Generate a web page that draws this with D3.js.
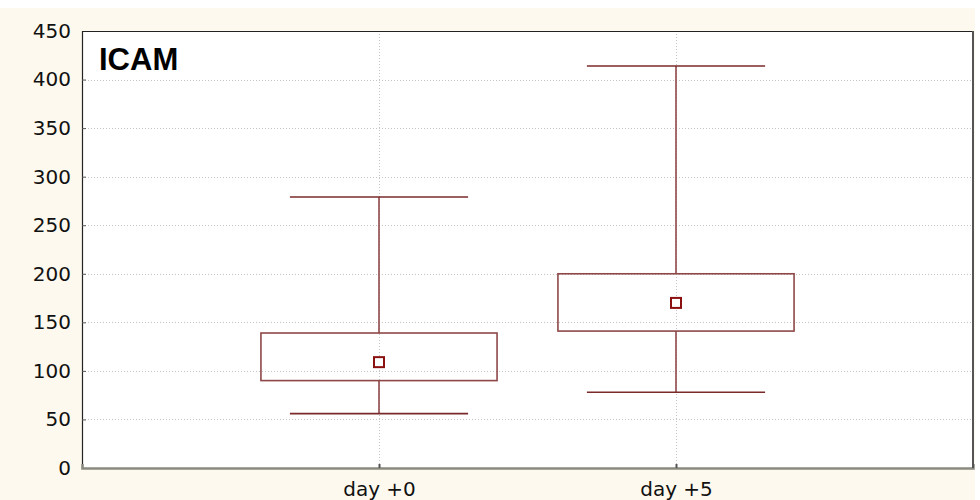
<!DOCTYPE html>
<html>
<head>
<meta charset="utf-8">
<script src="https://cdn.jsdelivr.net/npm/d3@7"></script>
<style>
  html, body { margin: 0; padding: 0; background: #ffffff; }
  svg { display: block; }
</style>
</head>
<body>
<svg id="chart" width="980" height="500"></svg>
<script>
// Box plot data: whiskers (min/max), box (25th/75th), mean marker
const categories = ["day +0", "day +5"];
const whiskerLow  = [56, 78];
const boxLow      = [90, 141];
const meanValue   = [109, 170];
const boxHigh     = [139, 200];
const whiskerHigh = [279, 414];
const yTicks = [0, 50, 100, 150, 200, 250, 300, 350, 400, 450];
const chartTitle = "ICAM";

const svg = d3.select("#chart");
const W = 980, H = 500;
const m = { left: 82, right: 7, top: 31, bottom: 32 };
const plotW = W - m.left - m.right;
const plotH = H - m.top - m.bottom;

// outer cream panel
svg.append("rect").attr("x", 0).attr("y", 8).attr("width", 975).attr("height", H - 8)
  .attr("fill", "#fdf9ee");

const g = svg.append("g").attr("transform", `translate(${m.left},${m.top})`);

g.append("rect").attr("width", plotW).attr("height", plotH).attr("fill", "#ffffff");

const x = d3.scalePoint().domain(categories).range([0, plotW]).padding(1);
const y = d3.scaleLinear().domain([0, 450]).range([plotH, 0]);
const step = x.step();

// horizontal grid
g.append("g").selectAll("line").data(yTicks.filter(t => t > 0 && t < 450)).join("line")
  .attr("x1", 0).attr("x2", plotW)
  .attr("y1", d => Math.round(y(d)) + 0.5).attr("y2", d => Math.round(y(d)) + 0.5)
  .attr("stroke", "#c4c4c4").attr("stroke-width", 1).attr("stroke-dasharray", "1,2");

// vertical grid at categories
g.append("g").selectAll("line").data(categories).join("line")
  .attr("x1", d => Math.round(x(d)) + 0.5).attr("x2", d => Math.round(x(d)) + 0.5)
  .attr("y1", 0).attr("y2", plotH)
  .attr("stroke", "#c4c4c4").attr("stroke-width", 1).attr("stroke-dasharray", "1,2");

// y axis
const yAxis = d3.axisLeft(y).tickValues(yTicks).tickSize(-4).tickPadding(11);
const ya = g.append("g").call(yAxis);
ya.select(".domain").attr("stroke", "#222").attr("stroke-width", 1.2);
ya.selectAll(".tick line").attr("stroke", "#555");
ya.selectAll(".tick text").attr("font-family", "'DejaVu Sans', sans-serif")
  .attr("font-size", 20).attr("fill", "#111");

// x axis
const xAxis = d3.axisBottom(x).tickSize(-4).tickPadding(14);
const xa = g.append("g").attr("transform", `translate(0,${plotH})`).call(xAxis);
xa.select(".domain").attr("stroke", "#8a8a80").attr("stroke-width", 2.5);
xa.selectAll(".tick line").attr("stroke", "#555").attr("stroke-width", 2);
xa.selectAll(".tick text").attr("font-family", "'DejaVu Sans', sans-serif")
  .attr("font-size", 20).attr("fill", "#111");

// top and right frame
g.append("line").attr("x1", 0).attr("x2", plotW).attr("y1", 0.5).attr("y2", 0.5)
  .attr("stroke", "#222").attr("stroke-width", 1.2);
g.append("line").attr("x1", plotW).attr("x2", plotW).attr("y1", 0).attr("y2", plotH)
  .attr("stroke", "#555").attr("stroke-width", 2);

// boxes
const boxW = step * 0.795, capW = step * 0.6;
const stroke = "#8e4848";
const rows = categories.map((c, i) => ({
  c, lo: whiskerLow[i], q1: boxLow[i], mean: meanValue[i], q3: boxHigh[i], hi: whiskerHigh[i]
}));
const bx = g.append("g").selectAll("g").data(rows).join("g");

bx.append("line").attr("x1", d => x(d.c)).attr("x2", d => x(d.c))
  .attr("y1", d => y(d.hi)).attr("y2", d => y(d.q3))
  .attr("stroke", stroke).attr("stroke-width", 1.6);
bx.append("line").attr("x1", d => x(d.c)).attr("x2", d => x(d.c))
  .attr("y1", d => y(d.q1)).attr("y2", d => y(d.lo))
  .attr("stroke", stroke).attr("stroke-width", 1.6);
bx.append("line").attr("x1", d => x(d.c) - capW / 2).attr("x2", d => x(d.c) + capW / 2)
  .attr("y1", d => y(d.hi)).attr("y2", d => y(d.hi))
  .attr("stroke", "#7a2a2a").attr("stroke-width", 1.6);
bx.append("line").attr("x1", d => x(d.c) - capW / 2).attr("x2", d => x(d.c) + capW / 2)
  .attr("y1", d => y(d.lo)).attr("y2", d => y(d.lo))
  .attr("stroke", "#7a2a2a").attr("stroke-width", 1.6);
bx.append("rect").attr("x", d => x(d.c) - boxW / 2).attr("width", boxW)
  .attr("y", d => y(d.q3)).attr("height", d => y(d.q1) - y(d.q3))
  .attr("fill", "none").attr("stroke", stroke).attr("stroke-width", 1.6);
bx.append("rect").attr("x", d => x(d.c) - 5).attr("width", 10)
  .attr("y", d => y(d.mean) - 5).attr("height", 10)
  .attr("fill", "#ffffff").attr("stroke", "#8b1010").attr("stroke-width", 2);

// title inside plot
g.append("text").attr("x", 17).attr("y", 39).text(chartTitle)
  .attr("font-family", "'Liberation Sans', Arial, sans-serif").attr("font-weight", "bold")
  .attr("font-size", 31).attr("fill", "#000");
</script>
</body>
</html>
